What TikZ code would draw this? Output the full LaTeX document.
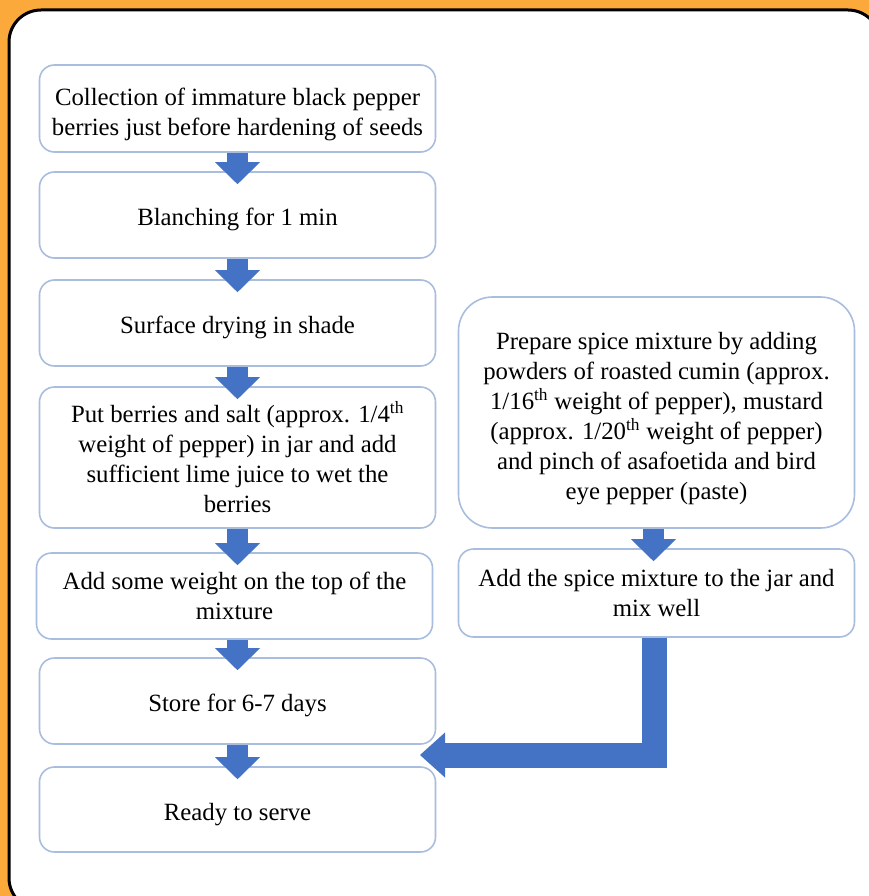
\documentclass[tikz,border=0pt]{standalone}
\usepackage{fontspec}
\setmainfont{Liberation Serif}
\usepackage{xcolor}
\definecolor{frameBack}{HTML}{FBA93B}
\definecolor{stepLine} {HTML}{A9BDDF}
\definecolor{flowBlue} {HTML}{4472C4}
\usetikzlibrary{arrows.meta, calc}

\begin{document}
\begin{tikzpicture}[x=1pt, y=-1pt,
    every node/.style={font=\fontsize{24.8}{30}\selectfont},
    stepbox/.style={draw=stepLine, line width=1.6pt, rounded corners=15pt, fill=white,
                    align=center, minimum width=396pt, inner sep=0pt,
                    execute at begin node={\rule{0pt}{27pt}}},
    sidebox/.style={stepbox, rounded corners=34pt},
    flow/.style={draw=flowBlue, line width=21pt,
                 -{Triangle[width=45pt, length=22pt, line width=0pt, fill=flowBlue]}, shorten >=-13pt},
    bigflow/.style={draw=flowBlue, line width=25pt, line join=miter,
                 -{Triangle[width=45pt, length=25pt, line width=0pt, fill=flowBlue]}}
]
\useasboundingbox (0,0) rectangle (869,896);
% Orange backdrop and white card
\fill[frameBack] (0,0) rectangle (869,896);
\draw[line width=3pt, fill=white, rounded corners=32pt] (9,10) rectangle (880,910);
% Main column of steps
\node[stepbox, minimum height=87pt] (collect) at (237.5,108.5)
  {\rule{0pt}{30pt}Collection of immature black pepper\\berries just before hardening of seeds};
\node[stepbox, minimum height=86pt] (blanch) at (237.5,215) {Blanching for 1 min};
\node[stepbox, minimum height=86pt] (dry) at (237.5,323) {Surface drying in shade};
\node[stepbox, minimum height=141pt] (salt) at (237.5,457.5)
  {Put berries and salt (approx. 1/4\textsuperscript{th}\\weight of pepper) in jar and add\\sufficient lime juice to wet the\\berries};
\node[stepbox, minimum height=86pt] (weight) at (234.5,596)
  {Add some weight on the top of the\\mixture};
\node[stepbox, minimum height=86pt] (store) at (237.5,701) {Store for 6-7 days};
\node[stepbox, minimum height=85pt] (serve) at (237.5,809.5) {Ready to serve};
% Side branch: spice mixture
\node[sidebox, minimum height=231pt] (spice) at (656.5,412.5)
  {\rule{0pt}{30pt}Prepare spice mixture by adding\\powders of roasted cumin (approx.\\1/16\textsuperscript{th} weight of pepper), mustard\\(approx. 1/20\textsuperscript{th} weight of pepper)\\and pinch of asafoetida and bird\\eye pepper (paste)};
\node[stepbox, minimum height=88pt] (addmix) at (656.5,593)
  {Add the spice mixture to the jar and\\mix well};
% Block arrows down the main column
\draw[flow] (collect.south) -- (collect.south |- blanch.north);
\draw[flow] (blanch.south) -- (blanch.south |- dry.north);
\draw[flow] (dry.south) -- (dry.south |- salt.north);
\draw[flow] (salt.south) -- (salt.south |- weight.north);
\draw[flow] (weight.south -| store.north) -- (store.north);
\draw[flow] (store.south) -- (serve.north);
\draw[flow] ([xshift=-3pt]spice.south) -- ([xshift=-3pt]addmix.north);
% Side branch joins before serving
\coordinate (meet) at (420,755);
\draw[bigflow] ([xshift=-2pt]addmix.south) |- (meet);
\end{tikzpicture}
\end{document}
